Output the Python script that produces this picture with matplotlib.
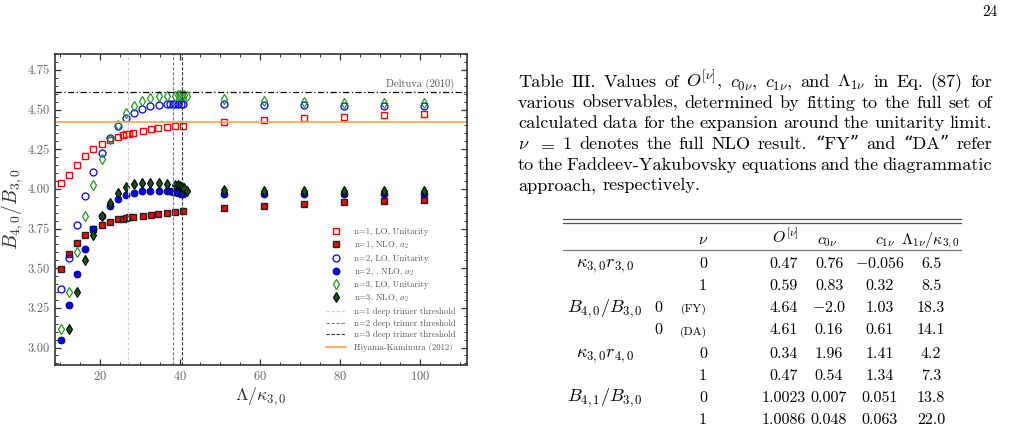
import matplotlib
matplotlib.use("Agg")
import numpy as np
from matplotlib import pyplot as plt

plt.rcParams['font.family'] = ['cmr10', 'DejaVu Serif']
plt.rcParams['mathtext.fontset'] = 'cm'
plt.rcParams['axes.formatter.use_mathtext'] = True

# ---------------- data ----------------
n1_lo_lam = [10.25, 12.3, 14.3, 16.4, 18.4, 20.5, 22.5, 24.6, 25.8, 26.5, 27.3, 28.3,
             30.7, 32.7, 34.6, 36.7, 38.7, 40.7, 51, 61, 71, 81, 91, 101]
n1_lo_val = [4.04, 4.087, 4.15, 4.207, 4.251, 4.283, 4.308, 4.329, 4.339, 4.344, 4.348, 4.354,
             4.365, 4.375, 4.383, 4.39, 4.396, 4.398, 4.423, 4.436, 4.447, 4.455, 4.464, 4.472]

n1_nlo_lam = n1_lo_lam
n1_nlo_val = [3.497, 3.59, 3.659, 3.712, 3.746, 3.775, 3.792, 3.807, 3.813, 3.817, 3.820, 3.822,
              3.832, 3.838, 3.842, 3.849, 3.853, 3.859, 3.88, 3.895, 3.905, 3.916, 3.924, 3.93]

n2_lam = [10.25, 12.3, 14.3, 16.4, 18.4, 20.5, 22.5, 24.5, 26.5, 28.6, 30.6, 32.6, 34.7,
          36.7, 37.5, 38.2, 38.9, 39.6, 40.2, 40.8, 51, 61, 71, 81, 91, 101]
n2_lo_val = [3.371, 3.564, 3.771, 3.954, 4.104, 4.228, 4.32, 4.396, 4.449, 4.48, 4.502, 4.521, 4.529,
             4.535, 4.535, 4.536, 4.536, 4.537, 4.537, 4.538, 4.535, 4.53, 4.527, 4.525, 4.525, 4.525]
n2_nlo_val = [3.046, 3.265, 3.461, 3.619, 3.75, 3.83, 3.893, 3.935, 3.96, 3.977, 3.986, 3.988, 3.986,
              3.986, 3.985, 3.983, 3.98, 3.975, 3.965, 3.97, 3.967, 3.968, 3.97, 3.97, 3.97, 3.97]

n3_lo_lam = [10.25, 12.3, 14.3, 16.4, 18.4, 20.5, 22.5, 24.5, 26.5, 28.6, 30.6, 32.6, 34.7,
             36.7, 38.75, 39.6, 40.0, 40.6, 41.1, 41.7, 51, 61, 71, 81, 91, 101]
n3_lo_val = [3.114, 3.35, 3.60, 3.83, 4.023, 4.186, 4.312, 4.403, 4.476, 4.525, 4.556, 4.575, 4.586,
             4.588, 4.588, 4.589, 4.589, 4.589, 4.589, 4.588, 4.565, 4.553, 4.545, 4.542, 4.542, 4.542]

n3_nlo_lam = [12.3, 14.3, 16.4, 18.4, 20.5, 22.5, 24.5, 26.5, 28.6, 30.6, 32.6, 34.7,
              36.7, 38.75, 39.6, 40.0, 40.6, 41.1, 41.7, 51, 61, 71, 81, 91, 101]
n3_nlo_val = [3.114, 3.352, 3.55, 3.71, 3.828, 3.912, 3.975, 4.013, 4.03, 4.038, 4.038, 4.034,
              4.03, 4.025, 4.022, 4.02, 4.013, 4.005, 3.988, 3.99, 3.988, 3.985, 3.985, 3.985, 3.986]

thresholds = [27.1, 38.3, 40.6]
deltuva = 4.611
hiyama = 4.423

# table
obs_labels = [r'$\kappa_{3,0}r_{3,0}$', '', r'$B_{4,0}/B_{3,0}$', '',
              r'$\kappa_{3,0}r_{4,0}$', '', r'$B_{4,1}/B_{3,0}$', '']
nu_labels = ['0', '1', '0', '0', '0', '1', '0', '1']
nu_tags = ['', '', '(FY)', '(DA)', '', '', '', '']
O_vals = ['0.47', '0.59', '4.64', '4.61', '0.34', '0.47', '1.0023', '1.0086']
c0_vals = ['0.76', '0.83', r'$-$2.0', '0.16', '1.96', '0.54', '0.007', '0.048']
c1_vals = [r'$-$0.056', '0.32', '1.03', '0.61', '1.41', '1.34', '0.051', '0.063']
lam_vals = ['6.5', '8.5', '18.3', '14.1', '4.2', '7.3', '13.8', '22.0']

caption = [
    r'Table III. Values of $O^{[\nu]}$, $c_{0\nu}$, $c_{1\nu}$, and $\Lambda_{1\nu}$ in Eq. (87) for',
    'various observables, determined by fitting to the full set of',
    'calculated data for the expansion around the unitarity limit.',
    r'$\nu$ $=$ $1$ denotes the full NLO result. “FY” and “DA” refer',
    'to the Faddeev-Yakubovsky equations and the diagrammatic',
    'approach, respectively.',
]

W, H = 1015, 433
fig = plt.figure(figsize=(W / 100, H / 100), dpi=100)


def fx(x):
    return x / W


def fy(y):
    return 1 - y / H


ax = fig.add_axes([fx(55), fy(365), 412 / W, 311 / H])

ax.plot(n1_lo_lam, n1_lo_val, 's', ms=5, mfc='none', mec='red', mew=1.0,
        label='n=1, LO, Unitarity')
ax.plot(n1_nlo_lam, n1_nlo_val, 's', ms=5, mfc='red', mec='#222222', mew=1.0,
        label=r'n=1, NLO, $a_2$')
ax.plot(n2_lam, n2_lo_val, 'o', ms=5, mfc='none', mec='blue', mew=0.9,
        label='n=2, LO, Unitarity')
ax.plot(n2_lam, n2_nlo_val, 'o', ms=5, mfc='blue', mec='#000055', mew=0.6,
        label=r'n=2, , NLO, $a_2$')
ax.plot(n3_lo_lam, n3_lo_val, 'd', ms=5.5, mfc='none', mec='#1f9a1f', mew=0.9,
        label='n=3, LO, Unitarity')
ax.plot(n3_nlo_lam, n3_nlo_val, 'd', ms=5.5, mfc='#0b5a0b', mec='black', mew=0.8,
        label=r'n=3, NLO, $a_2$')

th_cols = ['#d0d0d0', '#7080a0', '#303030']
for i, t in enumerate(thresholds):
    ax.axvline(t, color=th_cols[i], ls='--', lw=0.8, dashes=(3, 1.5),
               label='n=%d deep trimer threshold' % (i + 1))
ax.axhline(hiyama, color='#ffa64d', lw=1.2, label='Hiyama-Kaminura (2012)')
ax.axhline(deltuva, color='black', lw=0.9, ls='-.', dashes=(5, 2, 1, 2))
ax.text(108.5, deltuva + 0.012, 'Deltuva (2010)', ha='right', va='bottom',
        fontsize=7.5, color='#555555')

ax.set_xlim(8.8, 111.8)
ax.set_ylim(2.89, 4.85)
ax.set_xticks([20, 40, 60, 80, 100])
ax.set_xticks(np.arange(10, 111, 5), minor=True)
ax.set_yticks([3.00, 3.25, 3.50, 3.75, 4.00, 4.25, 4.50, 4.75])
ax.set_yticks(np.arange(2.9, 4.851, 0.05), minor=True)
ax.yaxis.set_major_formatter(matplotlib.ticker.FormatStrFormatter('%.2f'))
ax.tick_params(which='both', direction='in', top=True, right=True,
               labelsize=9, labelcolor='#666666', color='#333333')
ax.tick_params(which='major', length=4, width=0.9)
ax.tick_params(which='minor', length=2, width=0.7)
for s in ax.spines.values():
    s.set_color('#333333')
    s.set_linewidth(1.2)

ax.set_xlabel(r'$\Lambda/\kappa_{3,0}$', fontsize=13, color='#333333', labelpad=2)
ax.set_ylabel(r'$B_{4,0}/B_{3,0}$', fontsize=14, color='#333333')
ax.yaxis.set_label_coords(-0.072, 0.5)

leg = ax.legend(loc='lower right', bbox_to_anchor=(0.99, 0.02), frameon=False,
                fontsize=6.3, handlelength=2.3, handletextpad=0.95,
                labelspacing=0.38, borderaxespad=0.4, numpoints=1)
for t in leg.get_texts():
    t.set_color('#555555')

r = fig.canvas.get_renderer()

# caption size: fit line 2 to the measured text width with ordinary spacing
x0, x1 = 518, 992
words2 = caption[1].split(' ')
probes = [fig.text(0, 0, w, fontsize=10) for w in words2]
w10 = sum(p.get_window_extent(r).width for p in probes)
for p in probes:
    p.remove()
sp10 = 0.36 * 10 * 100 / 72
cfs = 10 * (x1 - x0) / (w10 + sp10 * (len(words2) - 1))

base = [87, 107.7, 128.4, 149, 169.7, 190.4]
for k, line in enumerate(caption):
    words = line.split(' ')
    arts = [fig.text(0, fy(base[k]), w, fontsize=cfs, va='baseline', ha='left')
            for w in words]
    widths = [a.get_window_extent(r).width for a in arts]
    if k < len(caption) - 1:
        gap = ((x1 - x0) - sum(widths)) / (len(words) - 1)
    else:
        gap = 0.36 * cfs * 100 / 72
    x = x0
    for a, w in zip(arts, widths):
        a.set_x(fx(x))
        x += w + gap

# ---------------- table ----------------
fig.add_artist(plt.Line2D([fx(563), fx(961)], [fy(218.5), fy(218.5)], color='#555555', lw=0.9))
fig.add_artist(plt.Line2D([fx(563), fx(961)], [fy(222.5), fy(222.5)], color='#555555', lw=0.9))
fig.add_artist(plt.Line2D([fx(563), fx(961)], [fy(249.5), fy(249.5)], color='#777777', lw=0.9))

hy = 244
fs = 11.5
lfs = 13
fig.text(fx(708), fy(hy), r'$\nu$', fontsize=fs, ha='right', va='baseline')
fig.text(fx(785), fy(hy), r'$O^{[\nu]}$', fontsize=fs, ha='center', va='baseline')
fig.text(fx(827), fy(hy), r'$c_{0\nu}$', fontsize=fs, ha='center', va='baseline')
fig.text(fx(885), fy(hy), r'$c_{1\nu}$', fontsize=fs, ha='center', va='baseline')
fig.text(fx(930), fy(hy), r'$\Lambda_{1\nu}/\kappa_{3,0}$', fontsize=fs, ha='center', va='baseline')

row_y = [267.5, 290, 312, 334.5, 357.5, 379.5, 401.5, 424]
for i, yy in enumerate(row_y):
    if obs_labels[i]:
        fig.text(fx(605), fy(yy), obs_labels[i], fontsize=lfs, ha='center', va='baseline')
    if nu_tags[i]:
        fig.text(fx(707), fy(yy), nu_tags[i], fontsize=8.5, ha='right', va='baseline')
        fig.text(fx(658), fy(yy), nu_labels[i], fontsize=fs, ha='center', va='baseline')
    else:
        fig.text(fx(707), fy(yy), nu_labels[i], fontsize=fs, ha='right', va='baseline')
    fig.text(fx(784), fy(yy), O_vals[i], fontsize=fs, ha='center', va='baseline')
    fig.text(fx(829), fy(yy), c0_vals[i], fontsize=fs, ha='center', va='baseline')
    fig.text(fx(880), fy(yy), c1_vals[i], fontsize=fs, ha='center', va='baseline')
    fig.text(fx(931), fy(yy), lam_vals[i], fontsize=fs, ha='center', va='baseline')

fig.text(fx(990), fy(12), '24', fontsize=11, ha='center', va='center')

fig.savefig('out.png', dpi=100)
